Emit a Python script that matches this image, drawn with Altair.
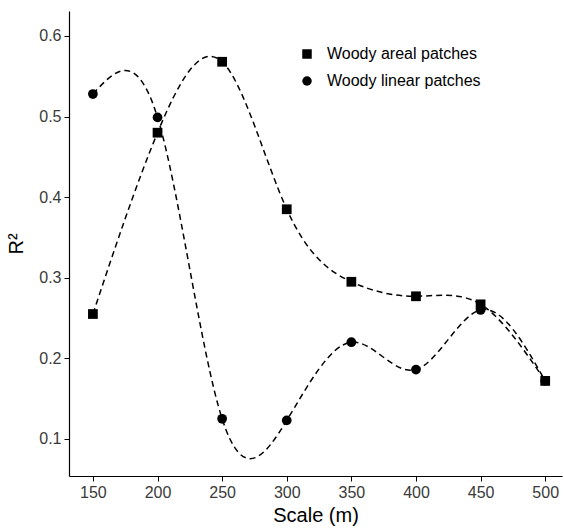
import altair as alt
import pandas as pd

scale = [150, 200, 250, 300, 350, 400, 450, 500]
areal = [0.255, 0.480, 0.568, 0.385, 0.295, 0.277, 0.267, 0.172]
linear = [0.528, 0.499, 0.125, 0.123, 0.220, 0.186, 0.260, 0.172]
series_names = ["Woody areal patches", "Woody linear patches"]
x_ticks = [150, 200, 250, 300, 350, 400, 450, 500]
y_ticks = [0.1, 0.2, 0.3, 0.4, 0.5, 0.6]

df = pd.DataFrame(
    [{"scale": s, "r2": v, "series": series_names[0]} for s, v in zip(scale, areal)]
    + [{"scale": s, "r2": v, "series": series_names[1]} for s, v in zip(scale, linear)]
)

x = alt.X("scale:Q", scale=alt.Scale(domain=[131.5, 513], nice=False, zero=False),
          axis=alt.Axis(values=x_ticks, title="Scale (m)", grid=False))
y = alt.Y("r2:Q", scale=alt.Scale(domain=[0.054, 0.631], nice=False, zero=False),
          axis=alt.Axis(values=y_ticks, format=".1f", title="R²", grid=False))

lines = alt.Chart(df).mark_line(
    interpolate="natural", strokeDash=[6, 4], strokeWidth=1.5, color="black"
).encode(x=x, y=y, detail="series:N", order="scale:Q")

points = alt.Chart(df).mark_point(filled=True, opacity=1, color="black").encode(
    x=x, y=y,
    shape=alt.Shape("series:N", scale=alt.Scale(domain=series_names, range=["square", "circle"]),
                    legend=alt.Legend(title=None, orient="none", legendX=230, legendY=35,
                                      symbolSize=90, symbolFillColor="black", symbolStrokeColor="black",
                                      labelFontSize=16, labelFont="Liberation Sans", labelColor="black",
                                      labelOffset=12, rowPadding=11)),
    size=alt.value(95),
)

chart = (lines + points).properties(
    width=493, height=465,
    autosize=alt.AutoSizeParams(type="none"),
    padding={"left": 69, "top": 11, "right": 2, "bottom": 53},
).configure_view(stroke=None).configure_axis(
    domainColor="black", tickColor="black", tickSize=5, domainWidth=1.2,
    labelFont="Liberation Sans", labelFontSize=16, labelColor="#3a3a3a",
    titleFont="Liberation Sans", titleFontSize=20, titleFontWeight="normal", titleColor="black",
).configure_axisX(titlePadding=5, labelPadding=3).configure_axisY(titlePadding=12, labelPadding=3)

chart.save("out.html", embed_options={"renderer": "svg", "actions": False})
